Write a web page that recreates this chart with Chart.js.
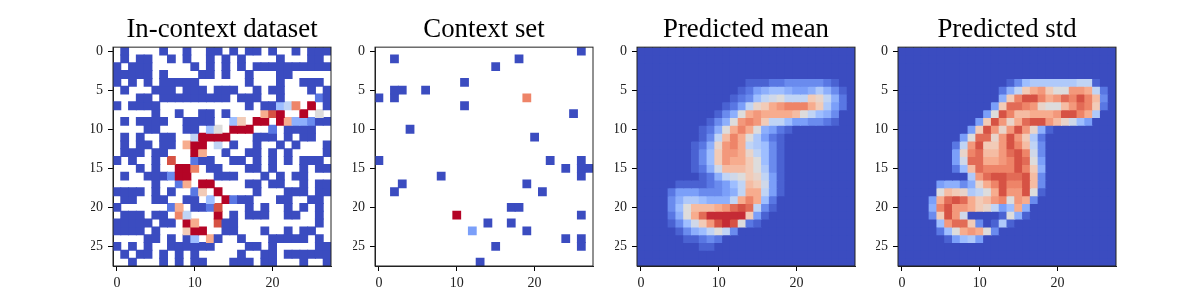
<!DOCTYPE html>
<html>
<head>
<meta charset="utf-8">
<title>Heatmaps</title>
<script src="https://cdn.jsdelivr.net/npm/chart.js@4/dist/chart.umd.min.js"></script>
<style>
    body { margin: 0; background: #fff; width: 1196px; height: 308px; overflow: hidden; position: relative; }
    canvas { position: absolute; top: 0; }
</style>
</head>
<body>
<canvas id="chart-0" width="262" height="308" style="left:91px"></canvas>
<canvas id="chart-1" width="262" height="308" style="left:353px"></canvas>
<canvas id="chart-2" width="262" height="308" style="left:615px"></canvas>
<canvas id="chart-3" width="262" height="308" style="left:876px"></canvas>
<script>
// Cell values: one string per image row, one char per column.
// "." = no value (white), otherwise base 21: 0 = 0.00 ... k = 1.00, in steps of 0.05
const titles = ["In-context dataset", "Context set", "Predicted mean", "Predicted std"];
const columns = Array.from({ length: 28 }, (_, i) => String(i));
const xTickValues = [0, 10, 20];
const yTickValues = [0, 5, 10, 15, 20, 25];

const inContextRows = [
    ".0....0..0..00.0.00.0..0.000",
    ".0.00..0.0..0.0.0....0...00.",
    "0.000.....0.0.0.0.0000000000",
    "00000.0....00.0..0...00.....",
    "0.0.0.00000......0...0..000.",
    ".0...000.000.000..0.00...0.0",
    "...00.000000000.000..0....20",
    "0.0000...........0.0068g.k.0",
    ".....0..0..00.0....eik..k.a.",
    ".0.0000..0000..6c.kk.ke55300",
    "....00...00.6a.kkk..2.0000..",
    ".0.0..00..8kkkk...000.0.00..",
    ".0.00.00.ekk.8.0..0..0.0...0",
    ".000.00...ke..0..00.0.0....0",
    "0.0..0.i..200..00.0.0.0.000.",
    "...0.0..kkg.00...00.0...0.00",
    ".0..0003kk...000...0.0.00...",
    ".....0..2e.kk....00.00..0.00",
    "0000.0.0..2c.k....0...000.00",
    ".00..00..00.6.k200...00..00.",
    "0......2e.002i...0.0..0.0.0.",
    ".000.00.g8...k.0.000..00..0.",
    "00000.00.ke..i00..........0.",
    "0000.0...ckk..00...0..0.00..",
    "....00.0.06.e0..0...00000.0.",
    "0.0.0..000000....00.0.....00",
    ".0.00.0.0.0.....0..00.000000",
    "..0...0.0.00...000.00...0..0"
];

const contextRows = [
    "..........................0.",
    "..0...............0.........",
    "...............0............",
    "............................",
    "...........0................",
    "..00..0.....................",
    "0.0................g........",
    "...........0................",
    ".........................0..",
    "............................",
    "....0.......................",
    "....................0.......",
    "............................",
    "............................",
    "0.....................0...0.",
    "........................0.00",
    "........0.................0.",
    "...0...............0........",
    "..0..................0......",
    "............................",
    ".................00.........",
    "..........k...............0.",
    "..............0..0..........",
    "............4......0........",
    "........................0.0.",
    "...............0..........0.",
    "............................",
    ".............0.............."
];

const meanRows = [
    "0000000000000000000000000000",
    "0000000000000000000000000000",
    "0000000000000000000000000000",
    "0000000000000000000000000000",
    "00000000000000111223" + "33332100",
    "00000000000001245665" + "44575310",
    "0000000000" + "00123689a8" + "88cb8520",
    "0000000000" + "01248bcefg" + "ggec7420",
    "0000000000" + "135aefeeee" + "da865300",
    "0000000001" + "35afgfc886" + "44332100",
    "0000000012" + "5aegea5421" + "00000000",
    "0000000013" + "8dgea74210" + "00000000",
    "0000000125" + "bfge876310" + "00000000",
    "0000000136" + "cffeb86310" + "00000000",
    "0000000136" + "cfeeca6310" + "00000000",
    "0000000125" + "9dddca7310" + "00000000",
    "0000000012" + "589acb8410" + "00000000",
    "0000011112" + "3468dc9410" + "00000000",
    "0000244433" + "3458ee8410" + "00000000",
    "0000357765" + "558ege6200" + "00000000",
    "000036addd" + "efhih83100" + "00000000",
    "000025aehj" + "jjjjc41000" + "00000000",
    "00001369cf" + "ijia210000" + "00000000",
    "0000013568" + "a830000000" + "00000000",
    "0000001123" + "2000000000" + "00000000",
    "0000000011" + "0000000000" + "00000000",
    "0000000000000000000000000000",
    "0000000000000000000000000000"
];

const stdRows = [
    "0000000000000000000000000000",
    "0000000000000000000000000000",
    "0000000000000000000000000000",
    "0000000000000000000000000000",
    "0000000000" + "0000136777" + "77788100",
    "0000000000" + "000258cefc" + "aaffe820",
    "0000000000" + "0005cgiige" + "fhgigd30",
    "0000000000" + "004chhgfba" + "adfhgc20",
    "0000000000" + "04aigddeee" + "fiige700",
    "0000000000" + "4cifbehiif" + "db964000",
    "0000000004" + "cifbfifb51" + "00000000",
    "000000004a" + "hhbfifc720" + "00000000",
    "000000028f" + "iccfigd830" + "00000000",
    "00000004bg" + "hddfhig930" + "00000000",
    "000000049h" + "heefgiha40" + "00000000",
    "000000026d" + "hggggigc50" + "00000000",
    "0000000007" + "fhiihhid30" + "00000000",
    "0000045535" + "begiggid30" + "00000000",
    "00000adcb7" + "8aeiffia10" + "00000000",
    "00004ehihe" + "cdfgafe300" + "00000000",
    "00005giffe" + "cb846e5000" + "00000000",
    "00003cif90" + "0001a51000" + "00000000",
    "000006fhhc" + "3017100000" + "00000000",
    "0000026aef" + "ea30000000" + "00000000",
    "0000001467" + "4000000000" + "00000000",
    "0000000000000000000000000000",
    "0000000000000000000000000000",
    "0000000000000000000000000000"
];

const panels = [inContextRows, contextRows, meanRows, stdRows];

// coolwarm colour stops at 0, 0.1 ... 1
const coolwarm = ["#3b4cc0", "#5977e3", "#7b9ff9", "#9ebeff", "#c0d4f5", "#dddcdc",
                  "#f2cbb7", "#f7ac8e", "#ee8468", "#d65244", "#b40426"];

function hexToRgb(hex) {
    return [1, 3, 5].map(i => parseInt(hex.substr(i, 2), 16));
}

// Turn one cell char into its colour
function cellColor(ch) {
    if (ch === ".") return "#ffffff";
    const t = parseInt(ch, 21) / 20 * (coolwarm.length - 1);
    const low = Math.floor(t);
    const high = Math.min(low + 1, coolwarm.length - 1);
    const a = hexToRgb(coolwarm[low]);
    const b = hexToRgb(coolwarm[high]);
    const mix = a.map((v, i) => Math.round(v + (b[i] - v) * (t - low)));
    return `rgb(${mix[0]}, ${mix[1]}, ${mix[2]})`;
}

// Each image row is one dataset of floating bars, one bar per column
function rowsToDatasets(rows) {
    return rows.map((row, r) => ({
        data: row.split("").map(ch => (ch === "." ? null : [r - 0.5, r + 0.5])),
        backgroundColor: row.split("").map(cellColor),
        borderWidth: 0,
        inflateAmount: 0.5,
        barPercentage: 1,
        categoryPercentage: 1,
        grouped: false
    }));
}

// The top and right spines, the two axes only give bottom and left
const framePlugin = {
    id: "frame",
    afterDraw(chart) {
        const { ctx, chartArea } = chart;
        ctx.save();
        ctx.strokeStyle = "#222";
        ctx.lineWidth = 1;
        ctx.strokeRect(chartArea.left, chartArea.top, chartArea.right - chartArea.left, chartArea.bottom - chartArea.top);
        ctx.restore();
    }
};

const tickFont = { family: "'Liberation Serif', serif", size: 14 };

panels.forEach((rows, i) => {
    new Chart(document.getElementById("chart-" + i), {
        type: "bar",
        data: { labels: columns, datasets: rowsToDatasets(rows) },
        plugins: [framePlugin],
        options: {
            responsive: false,
            animation: false,
            events: [],
            plugins: {
                legend: { display: false },
                tooltip: { enabled: false },
                title: {
                    display: true,
                    text: titles[i],
                    color: "#000",
                    font: { family: "'Liberation Serif', serif", size: 26.8, weight: "normal", lineHeight: 1.2 },
                    padding: { top: 14, bottom: 1 }
                }
            },
            scales: {
                x: {
                    type: "category",
                    offset: true,
                    grid: { display: true, offset: false, drawOnChartArea: false, drawTicks: true, tickLength: 5, color: "#000" },
                    border: { display: true, color: "#222" },
                    ticks: { autoSkip: false, maxRotation: 0, color: "#222", font: tickFont, padding: 4 },
                    afterBuildTicks(axis) { axis.ticks = xTickValues.map(v => ({ value: v })); },
                    afterFit(axis) { axis.height = 42; }
                },
                y: {
                    type: "linear",
                    reverse: true,
                    min: -0.5,
                    max: 27.5,
                    grid: { display: true, drawOnChartArea: false, drawTicks: true, tickLength: 5, color: "#000" },
                    border: { display: true, color: "#222" },
                    ticks: { color: "#222", font: tickFont, padding: 5, callback: v => v },
                    afterBuildTicks(axis) { axis.ticks = yTickValues.map(v => ({ value: v })); },
                    afterFit(axis) { axis.width = 22; }
                },
                // empty axis, only keeps the plot centred under the title
                yRight: {
                    position: "right",
                    grid: { display: false },
                    border: { display: false },
                    ticks: { display: false },
                    afterFit(axis) { axis.width = 22; }
                }
            }
        }
    });
});
</script>
</body>
</html>
